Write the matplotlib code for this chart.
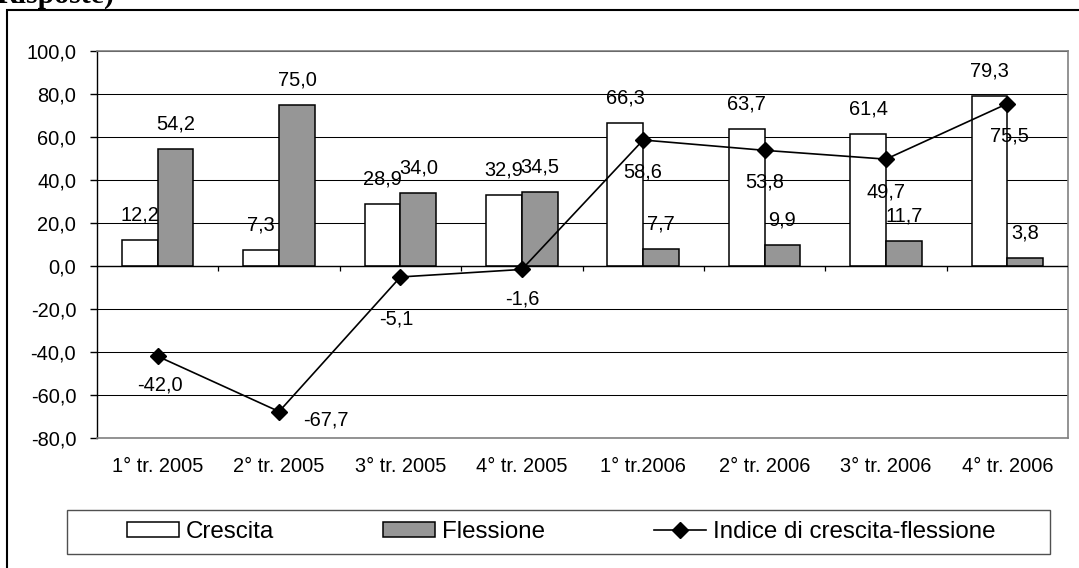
import numpy as np
import matplotlib
matplotlib.use("Agg")
import matplotlib.pyplot as plt
import matplotlib.patches as patches
from matplotlib.lines import Line2D

plt.rcParams["font.family"] = ["Liberation Sans", "DejaVu Sans"]

# ── data ──────────────────────────────────────────────────────────────────────
quarters = ["1° tr. 2005", "2° tr. 2005", "3° tr. 2005", "4° tr. 2005",
            "1° tr.2006", "2° tr. 2006", "3° tr. 2006", "4° tr. 2006"]
crescita = [12.2, 7.3, 28.9, 32.9, 66.3, 63.7, 61.4, 79.3]
flessione = [54.2, 75.0, 34.0, 34.5, 7.7, 9.9, 11.7, 3.8]
indice = [-42.0, -67.7, -5.1, -1.6, 58.6, 53.8, 49.7, 75.5]
yticks = [-80, -60, -40, -20, 0, 20, 40, 60, 80, 100]

# label offsets for the index series (pixels, dx/dy)
idx_offsets = [(2, -29), (47, -8), (-4, -42), (0, -30),
               (0, -32), (0, -32), (0, -33), (2, -32)]

FS = 14.4
GRAY = "#969696"
PX = 0.72  # points per pixel at dpi 100


def fmt(v):
    return f"{v:.1f}".replace(".", ",")


fig = plt.figure(figsize=(10.79, 5.68), dpi=100)
W, H = 1079, 568

# outer frame (only top and left edges fall inside the canvas)
fig.add_artist(patches.Rectangle((7 / W, -0.1), 1.2, 1 - 10 / H + 0.1,
                                 transform=fig.transFigure, fill=False,
                                 edgecolor="black", linewidth=1.5))

# heading line from the surrounding page, cut by the top edge
fig.text(-0.003, 1 - 2.5 / H, "Risposte)", family=["Liberation Serif"],
         fontweight="bold", fontsize=21.5, va="baseline", ha="left")

ax = fig.add_axes([97 / W, 1 - 438 / H, (1068 - 97) / W, (438 - 51) / H])

x = np.arange(len(quarters))
bw = 0.295

ax.set_axisbelow(True)
ax.yaxis.grid(True, color="black", linewidth=0.75)
ax.set_ylim(-80, 100)
ax.set_xlim(-0.5, len(quarters) - 0.5)

ax.bar(x - bw / 2, crescita, bw, color="white", edgecolor="black",
       linewidth=1.1, zorder=2)
ax.bar(x + bw / 2, flessione, bw, color=GRAY, edgecolor="black",
       linewidth=1.1, zorder=2)

# zero axis with category separators
ax.axhline(0, color="black", linewidth=1.0, zorder=3)
ax.vlines(x[:-1] + 0.5, -2.4, 0, color="black", linewidth=0.9, zorder=3)

ax.plot(x, indice, color="black", linewidth=1.2, marker="D",
        markersize=8, zorder=4)

for xi, c, f in zip(x, crescita, flessione):
    ax.annotate(fmt(c), (xi - bw / 2, c), xytext=(0, 25 * PX),
                textcoords="offset points", ha="center", va="center",
                fontsize=FS, zorder=5)
    ax.annotate(fmt(f), (xi + bw / 2, f), xytext=(0, 25 * PX),
                textcoords="offset points", ha="center", va="center",
                fontsize=FS, zorder=5)

for xi, v, (dx, dy) in zip(x, indice, idx_offsets):
    ax.annotate(fmt(v), (xi, v), xytext=(dx * PX, dy * PX),
                textcoords="offset points", ha="center", va="center",
                fontsize=FS, zorder=5)

ax.set_yticks(yticks)
ax.set_yticklabels([fmt(v) for v in yticks], fontsize=FS)
ax.tick_params(axis="y", length=5, width=1, color="black", pad=10)

ax.set_xticks(x)
ax.set_xticklabels(quarters, fontsize=FS)
ax.tick_params(axis="x", length=0, pad=14)

ax.spines["left"].set_color("black")
ax.spines["left"].set_linewidth(1.0)
for s in ("top", "right", "bottom"):
    ax.spines[s].set_color("#808080")
    ax.spines[s].set_linewidth(1.2)

# legend box and entries
fig.add_artist(patches.Rectangle((67 / W, 1 - 554 / H), (1050 - 67) / W,
                                 44 / H, transform=fig.transFigure,
                                 fill=False, edgecolor="#505050",
                                 linewidth=1.0))
handles = [
    patches.Patch(facecolor="white", edgecolor="black", linewidth=1.1),
    patches.Patch(facecolor=GRAY, edgecolor="black", linewidth=1.1),
    Line2D([], [], color="black", linewidth=1.2, marker="D", markersize=8),
]
fig.legend(handles, ["Crescita", "Flessione", "Indice di crescita-flessione"],
           loc="center", bbox_to_anchor=(561 / W, 1 - 532 / H), ncol=3,
           frameon=False, fontsize=17.4, handlelength=2.15, handleheight=0.58,
           handletextpad=0.3, columnspacing=4.5, borderpad=0)

fig.savefig("out.png", dpi=100)
